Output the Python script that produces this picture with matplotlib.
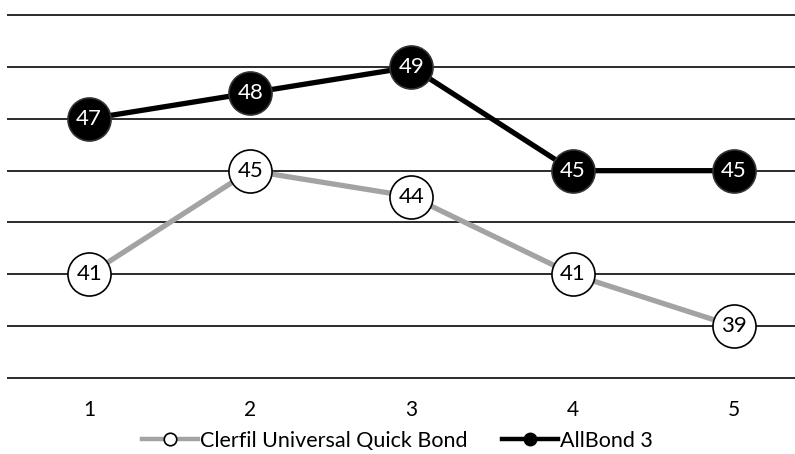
import matplotlib
matplotlib.use("Agg")
import matplotlib.pyplot as plt
from matplotlib.lines import Line2D

plt.rcParams["font.family"] = ["Lato", "DejaVu Sans"]

# Measurement rounds and scores for the two adhesives
ROUNDS = [1, 2, 3, 4, 5]
CLERFIL = [41, 45, 44, 41, 39]
ALLBOND = [47, 48, 49, 45, 45]
GRID_LEVELS = [37, 39, 41, 43, 45, 47, 49, 51]

GRAY = "#a3a3a3"

fig = plt.figure(figsize=(7.95, 4.54), dpi=100)
ax = fig.add_axes([0.0088, 0.156, 0.9912, 0.822])

for lvl in GRID_LEVELS:
    ax.axhline(lvl, color="#1a1a1a", lw=1.3, zorder=1)

ax.plot(ROUNDS, CLERFIL, color=GRAY, lw=3.8, zorder=2,
        marker="o", ms=31, mfc="white", mec="black", mew=1.2)
ax.plot(ROUNDS, ALLBOND, color="black", lw=3.8, zorder=3,
        marker="o", ms=31, mfc="black", mec="#333333", mew=1.2)

for x, v in zip(ROUNDS, CLERFIL):
    ax.text(x, v, str(v), ha="center", va="center", fontsize=16,
            color="black", zorder=4)
for x, v in zip(ROUNDS, ALLBOND):
    ax.text(x, v, str(v), ha="center", va="center", fontsize=16,
            color="white", zorder=4)

ax.set_xlim(0.49, 5.38)
ax.set_ylim(36.8, 51.2)
ax.set_xticks(ROUNDS)
ax.set_xticklabels([str(r) for r in ROUNDS], fontsize=15)
ax.tick_params(axis="x", length=0, pad=12)
ax.set_yticks([])
for s in ax.spines.values():
    s.set_visible(False)

handles = [
    Line2D([0], [0], color=GRAY, lw=3.2, marker="o", ms=9,
           mfc="white", mec="black", mew=1.2),
    Line2D([0], [0], color="black", lw=3.2, marker="o", ms=9,
           mfc="black", mec="black"),
]
fig.legend(handles, ["Clerfil Universal Quick Bond", "AllBond 3"],
           loc="lower center", bbox_to_anchor=(0.5, -0.035), ncol=2,
           frameon=False, fontsize=15.5, handlelength=2.6,
           handletextpad=0.1, columnspacing=1.6)

fig.savefig("out.png", dpi=100)
